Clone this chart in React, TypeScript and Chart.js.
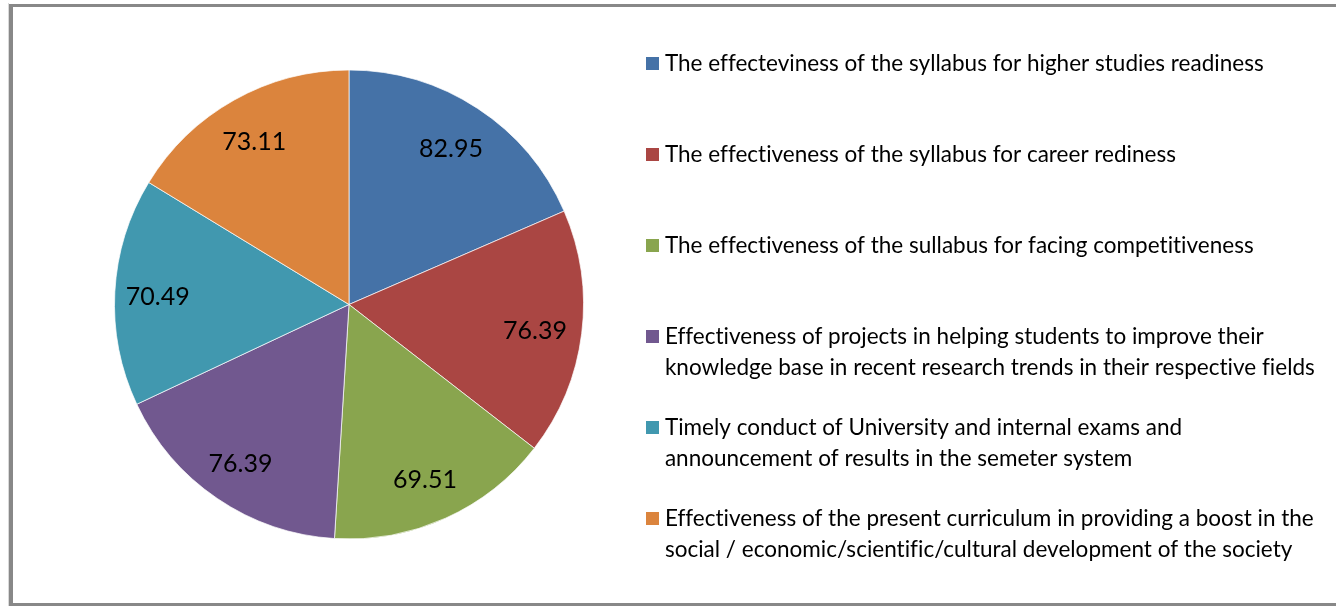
import React, { useEffect, useRef } from "react";
import { Chart, registerables } from "chart.js";

Chart.register(...registerables);

const categories: string[] = [
  "The effecteviness of the syllabus for higher studies readiness",
  "The effectiveness of the syllabus for career rediness",
  "The effectiveness of the sullabus for facing competitiveness",
  "Effectiveness of projects in helping students to improve their knowledge base in recent research trends in their respective fields",
  "Timely conduct of University and internal exams and announcement of results in the semeter system",
  "Effectiveness of the present curriculum in providing a boost in the social / economic/scientific/cultural development of the society",
];

const legendLines: string[][] = [
  ["The effecteviness of the syllabus for higher studies readiness", ""],
  ["The effectiveness of the syllabus for career rediness", ""],
  ["The effectiveness of the sullabus for facing competitiveness", ""],
  ["Effectiveness of projects in helping students to improve their", "knowledge base in recent research trends in their respective fields"],
  ["Timely conduct of University and internal exams and", "announcement of results in the semeter system"],
  ["Effectiveness of the present curriculum in providing a boost in the", "social / economic/scientific/cultural development of the society"],
];

const values: number[] = [82.95, 76.39, 69.51, 76.39, 70.49, 73.11];

const colors: string[] = ["#4572A7", "#AA4643", "#89A54E", "#71588F", "#4198AF", "#DB843D"];

const FONT = "Lato";
const LEGEND_SIZE = 22.5;
const SWATCH = 13;

const framePlugin = {
  id: "frame",
  afterLayout(chart: any) {
    const lg = chart.legend;
    if (lg) {
      lg.right = chart.width;
      lg.width = chart.width - lg.left;
    }
  },
  beforeDraw(chart: any) {
    const { ctx, width, height } = chart;
    ctx.save();
    ctx.fillStyle = "#ffffff";
    ctx.fillRect(0, 0, width, height);
    ctx.fillStyle = "#d9d9d9";
    ctx.fillRect(8, 3, 1, height);
    ctx.fillStyle = "#888888";
    ctx.fillRect(9, 4, 4, height - 4);
    ctx.fillRect(9, 4, width, 3);
    ctx.fillRect(9, height - 3, width, 3);
    ctx.restore();
    // avoid "fi" ligatures, as in the reference
    try {
      (ctx as any).letterSpacing = "0.01px";
    } catch (e) {
      /* ignore */
    }
  },
};

const swatchPlugin = {
  id: "legendSwatches",
  afterDraw(chart: any) {
    const legend = chart.legend;
    if (!legend || !legend.legendHitBoxes) return;
    const { ctx } = chart;
    ctx.save();
    legend.legendHitBoxes.forEach((hb: any, i: number) => {
      ctx.fillStyle = colors[i];
      ctx.fillRect(Math.round(hb.left), Math.round(hb.top + (LEGEND_SIZE - SWATCH) / 2), SWATCH, SWATCH);
    });
    ctx.restore();
  },
};

const labelPlugin = {
  id: "sliceLabels",
  afterDatasetsDraw(chart: any) {
    const { ctx } = chart;
    const meta = chart.getDatasetMeta(0);
    ctx.save();
    ctx.font = `25px ${FONT}`;
    ctx.fillStyle = "#000000";
    ctx.textAlign = "center";
    ctx.textBaseline = "middle";
    meta.data.forEach((arc: any, i: number) => {
      const p = arc.getProps(["x", "y", "startAngle", "endAngle", "outerRadius"], true);
      const mid = (p.startAngle + p.endAngle) / 2;
      const r = p.outerRadius * 0.808;
      ctx.fillText(values[i].toFixed(2), p.x + Math.cos(mid) * r - 2, p.y + Math.sin(mid) * r + 2.5);
    });
    ctx.restore();
  },
};

export default function App() {
  const ref = useRef<HTMLCanvasElement | null>(null);
  useEffect(() => {
    if (!ref.current) return;
    const chart = new Chart(ref.current, {
      type: "pie",
      data: {
        labels: categories,
        datasets: [
          {
            data: values,
            backgroundColor: colors,
            borderColor: "rgba(255,255,255,0.7)",
            borderWidth: 1,
          },
        ],
      },
      options: {
        responsive: false,
        animation: false,
        radius: 234.5,
        layout: { padding: { left: 82.35, right: 30.35, top: 3, bottom: 0 } },
        plugins: {
          tooltip: { enabled: false },
          legend: {
            position: "right",
            maxWidth: 690,
            title: { display: true, text: "", padding: 0, font: { size: 12, lineHeight: 1 } },
            labels: {
              boxWidth: 8,
              boxHeight: SWATCH,
              padding: 30,
              color: "#000000",
              font: { family: FONT, size: LEGEND_SIZE, lineHeight: 30.5 / LEGEND_SIZE },
              generateLabels: () =>
                legendLines.map((lines, i) => ({
                  text: lines,
                  fillStyle: "rgba(0,0,0,0)",
                  strokeStyle: "rgba(0,0,0,0)",
                  lineWidth: 0,
                  hidden: false,
                  index: i,
                  fontColor: "#000000",
                })),
            },
          },
        },
      } as any,
      plugins: [framePlugin, labelPlugin, swatchPlugin],
    });
    return () => chart.destroy();
  }, []);
  return (
    <div style={{ position: "absolute", left: 0, top: 0, width: 1336, height: 606, background: "#fff" }}>
      <canvas ref={ref} width={1336} height={606} style={{ display: "block" }} />
    </div>
  );
}
